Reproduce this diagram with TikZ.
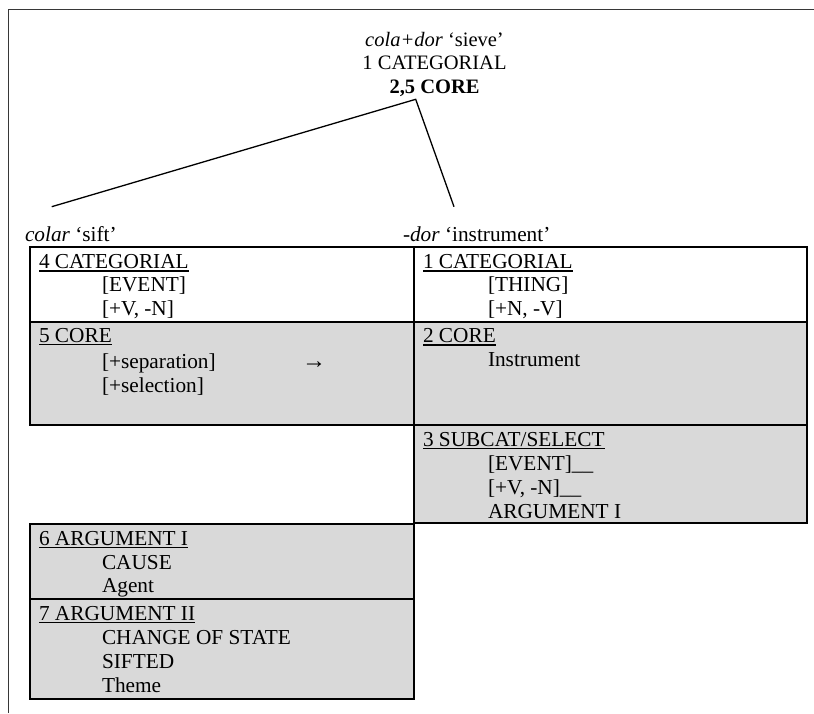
\documentclass[tikz,border=0pt]{standalone}
\usepackage{fontspec}
\setmainfont{Liberation Serif}
\definecolor{cellgray}{RGB}{217,217,217}
\definecolor{framegray}{RGB}{55,55,55}
\newcommand{\hdul}[1]{\setbox0\hbox{#1}\rlap{\rule[-3.3pt]{\wd0}{1.4pt}}\box0}
\tikzset{
  cell/.style={draw=black, line width=1.9pt, anchor=north west, inner sep=0pt, outer sep=0pt},
  graycell/.style={cell, fill=cellgray},
  whitecell/.style={cell, fill=white},
  txt/.style={anchor=base west, inner sep=0pt, outer sep=0pt, font=\fontsize{21.3}{23.5}\selectfont},
  ttl/.style={anchor=base, inner sep=0pt, outer sep=0pt, font=\fontsize{20.5}{23.5}\selectfont},
  tree/.style={draw=black, line width=1.3pt},
  frame/.style={draw=framegray, line width=1.8pt}
}
\begin{document}
\begin{tikzpicture}[x=1pt,y=-1pt]
\useasboundingbox (0,0) rectangle (814,713);
% frame
\coordinate (fbl) at (8.5,713);
\coordinate (ftl) at (8.5,9.5);
\coordinate (ftr) at (814,9.5);
\draw[frame] (fbl) -- (ftl) -- (ftr);
% title
\node[ttl] (title1) at (434.5,46) {\textit{cola+dor} ‘sieve’};
\node[ttl] (title2) at (434.5,69.5) {1 CATEGORIAL};
\node[ttl] (title3) at (434.5,93) {\textbf{2,5 CORE}};
% tree lines
\coordinate (apex) at (415.7,99.3);
\coordinate (lend) at (51.7,206.7);
\coordinate (rend) at (454,206.7);
\draw[tree] (lend) -- (apex) -- (rend);
% labels
\node[txt] (lblL) at (25,241.5) {\textit{colar} ‘sift’};
\node[txt] (lblR) at (403,241.5) {-\textit{dor} ‘instrument’};
% cells
\node[whitecell, minimum width=384pt, minimum height=75pt] (c4) at (30,247) {};
\node[graycell, minimum width=384pt, minimum height=103pt] (c5) at (30,322) {};
\node[whitecell, minimum width=393pt, minimum height=75pt] (c1) at (414,247) {};
\node[graycell, minimum width=393pt, minimum height=103pt] (c2) at (414,322) {};
\node[graycell, minimum width=393pt, minimum height=98pt] (c3) at (414,425) {};
\node[graycell, minimum width=384pt, minimum height=75pt] (c6) at (30,524) {};
\node[graycell, minimum width=384pt, minimum height=100pt] (c7) at (30,599) {};
% left column text
\node[txt] (h4) at (39,268.3) {\hdul{4 CATEGORIAL}};
\node[txt] (t4a) at (102,291.7) {[EVENT]};
\node[txt] (t4b) at (102,315.2) {[+V, -N]};
\node[txt] (h5) at (39,342) {\hdul{5 CORE}};
\node[txt] (t5a) at (102,368.3) {[+separation]};
\node[txt] (t5b) at (102,392.5) {[+selection]};
\node[txt, font=\fontsize{24}{26}\selectfont] (arr) at (302,368.3) {→};
% right column text
\node[txt] (h1) at (423,268.3) {\hdul{1 CATEGORIAL}};
\node[txt] (t1a) at (488,291.7) {[THING]};
\node[txt] (t1b) at (488,315.2) {[+N, -V]};
\node[txt] (h2) at (423,342.5) {\hdul{2 CORE}};
\node[txt] (t2a) at (488,366.5) {Instrument};
\node[txt] (h3) at (423,446) {\hdul{3 SUBCAT/SELECT}};
\node[txt] (t3a) at (488,470.5) {[EVENT]\_\_};
\node[txt] (t3b) at (488,494.5) {[+V, -N]\_\_};
\node[txt] (t3c) at (488,518.3) {ARGUMENT I};
% lower left text
\node[txt] (h6) at (39,545) {\hdul{6 ARGUMENT I}};
\node[txt] (t6a) at (102,569.5) {CAUSE};
\node[txt] (t6b) at (102,592.7) {Agent};
\node[txt] (h7) at (39,620) {\hdul{7 ARGUMENT II}};
\node[txt] (t7a) at (102,644.5) {CHANGE OF STATE};
\node[txt] (t7b) at (102,668) {SIFTED};
\node[txt] (t7c) at (102,692.5) {Theme};
\end{tikzpicture}
\end{document}
